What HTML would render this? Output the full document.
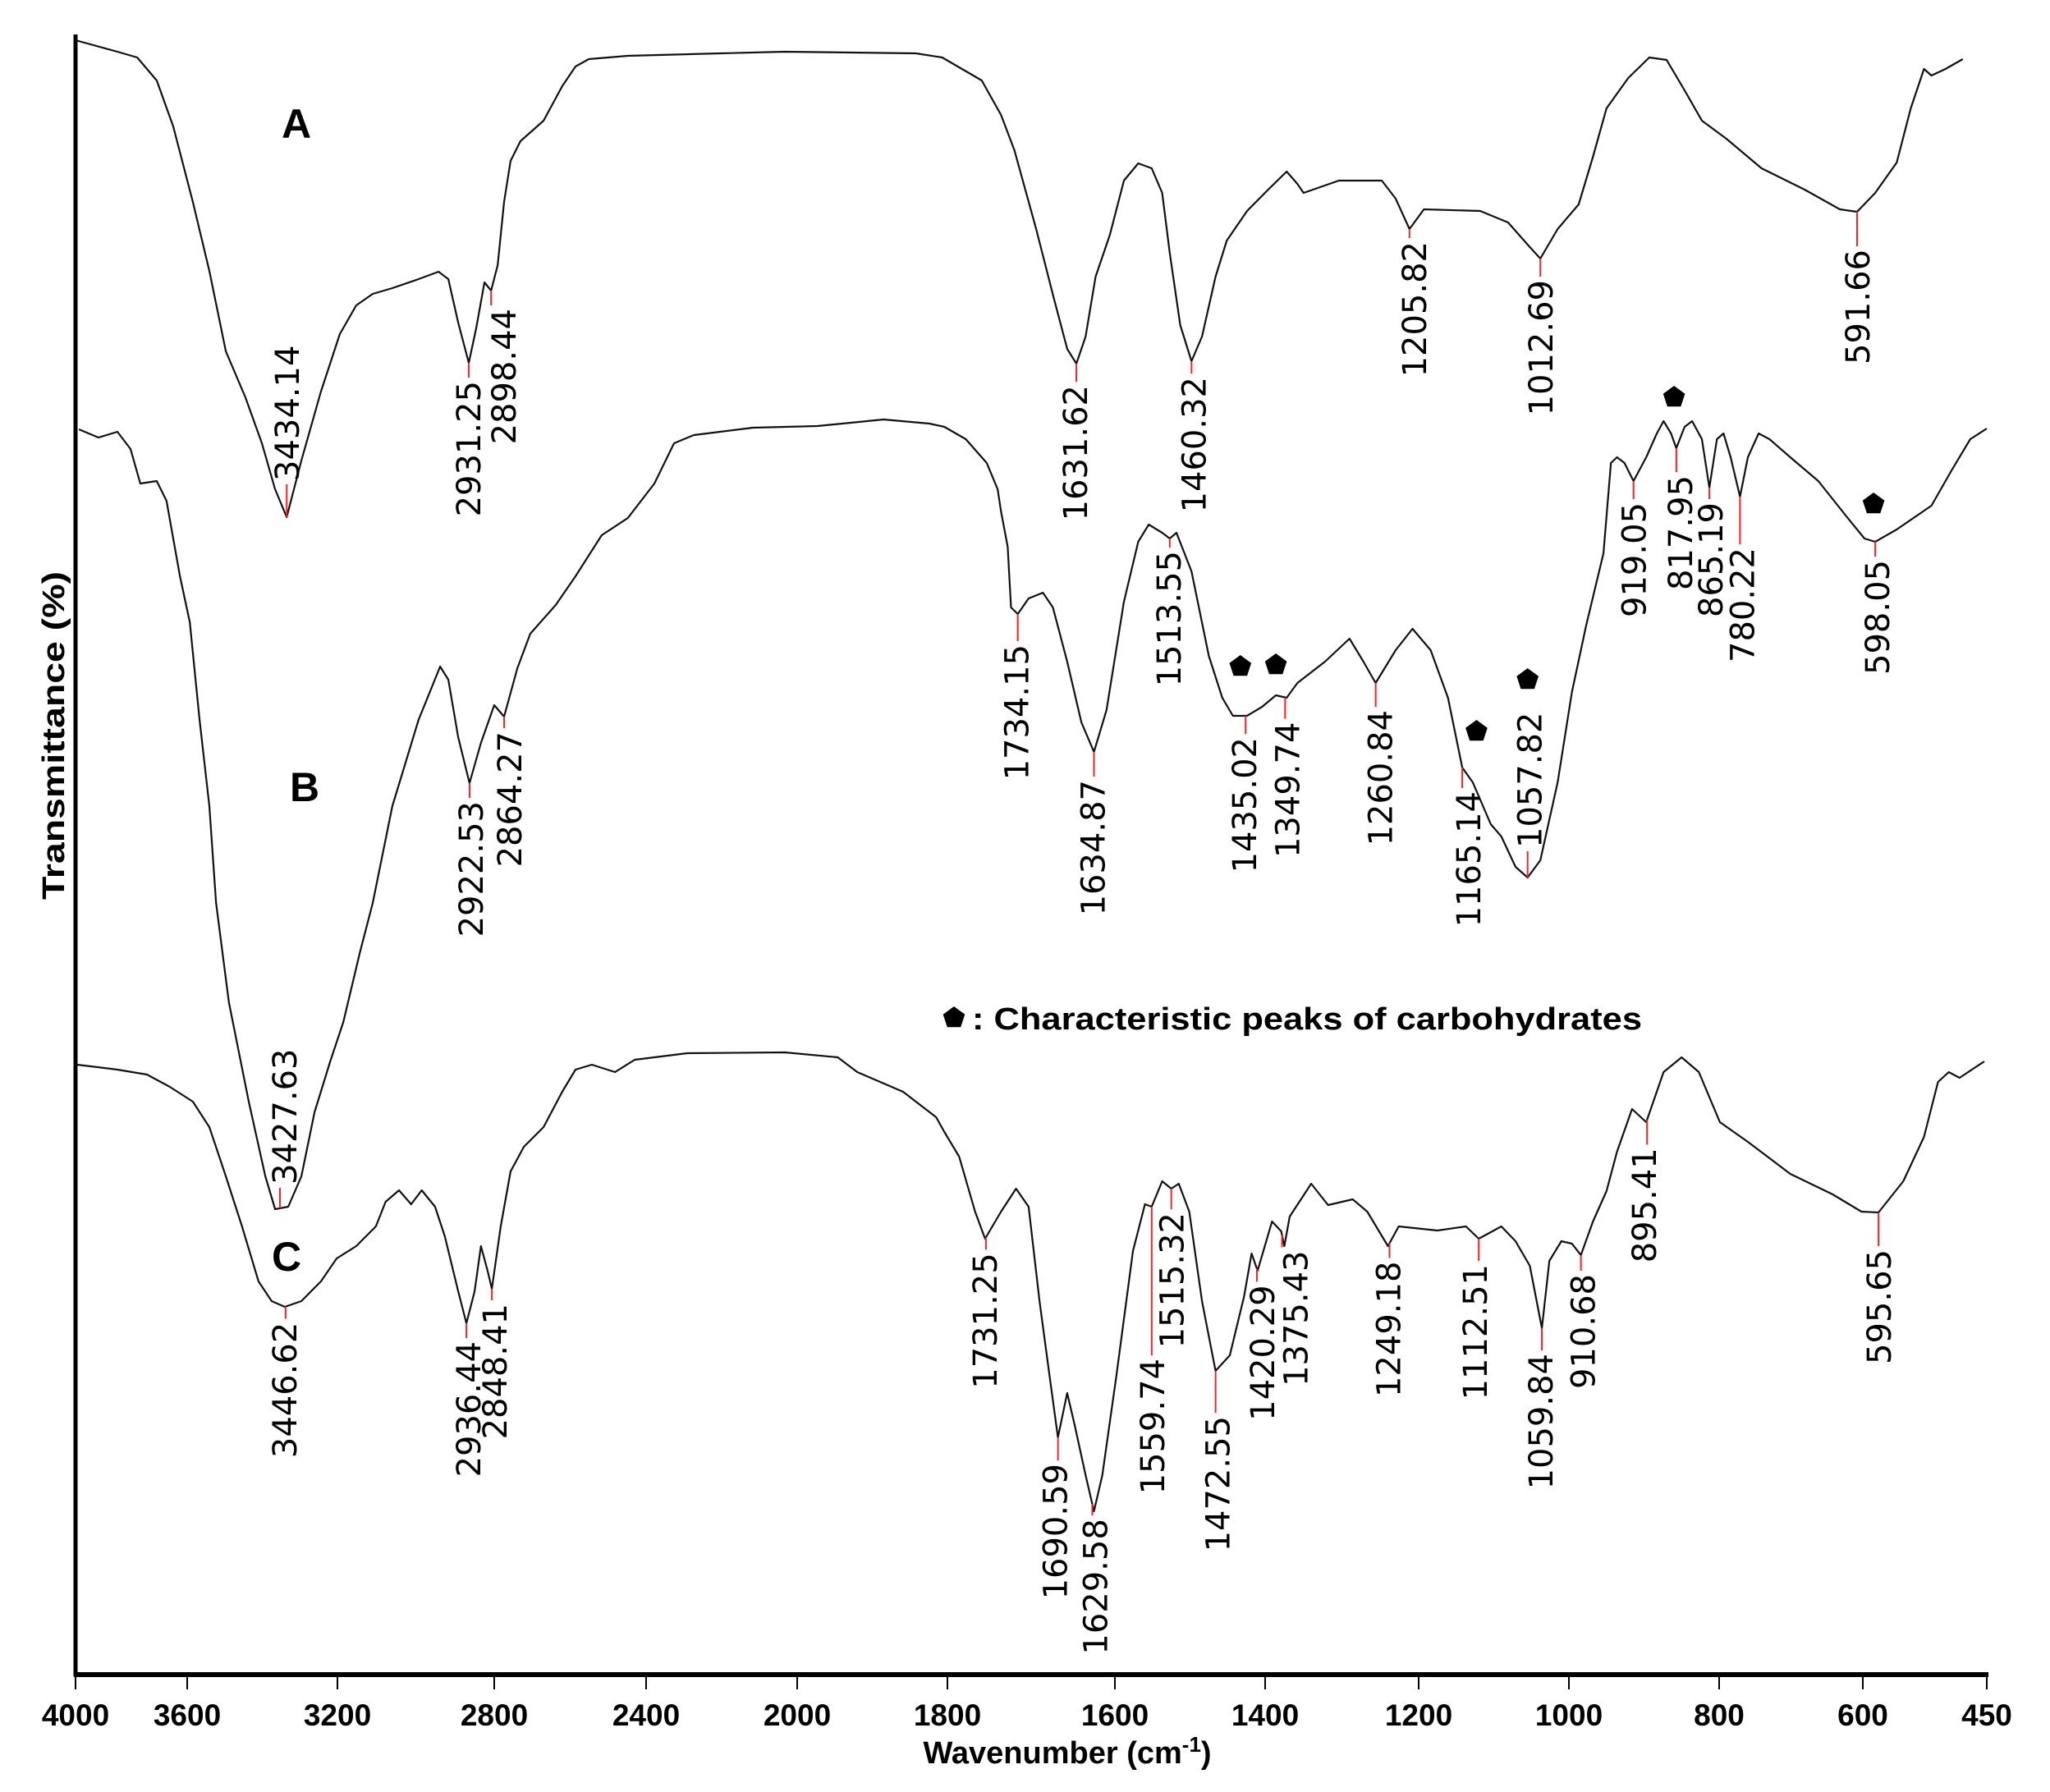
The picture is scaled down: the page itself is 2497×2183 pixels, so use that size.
<!DOCTYPE html>
<html><head><meta charset="utf-8">
<style>
html,body{margin:0;padding:0;background:#fff;}
svg{display:block;}
</style></head>
<body>
<svg id="chart" xmlns="http://www.w3.org/2000/svg" width="2497" height="2183" viewBox="0 0 2497 2183"></svg>
<script>
// ---- data ----
const tickLabels = [4000,3600,3200,2800,2400,2000,1800,1600,1400,1200,1000,800,600,450];

const waveA = [4000,3850,3779,3709,3650,3585,3541,3497,3445,3401,3366,3335,3296,3244,3194,3152,3110,3060,2993,2942,2917,2892,2865,2846,2825,2808,2791,2774,2757,2731,2670,2621,2586,2551,2448,2204,2033,1842,1807,1759,1736,1720,1694,1674,1657,1646,1635,1623,1606,1588,1569,1551,1537,1527,1513,1498,1484,1466,1451,1424,1396,1372,1358,1350,1304,1248,1230,1212,1193,1118,1081,1052,1038,1015,987,968,950,921,893,870,846,823,790,741,681,632,608,585,559,542,526,517,500,479];
const transA = [199.1,197.7,197.0,194.2,188.6,179.4,171.0,161.2,155.6,150.0,144.4,141.0,147.9,156.3,163.3,166.8,168.2,168.9,170.0,170.9,170.0,164.7,159.8,164.0,169.6,168.6,171.7,179.4,184.4,186.8,189.3,193.5,195.9,196.8,197.2,197.5,197.7,197.5,197.0,194.2,190.0,185.7,176.1,168.1,161.5,159.7,163.0,170.3,175.4,182.0,184.1,183.5,180.5,173.2,164.4,160.0,163.0,170.3,174.7,178.3,180.9,183.1,181.6,180.5,182.0,182.0,179.8,176.1,178.5,178.3,176.9,173.9,172.5,176.1,179.1,184.9,190.8,194.5,197.0,196.7,193.0,189.3,187.1,183.5,180.9,178.5,178.2,180.5,184.2,190.8,195.6,194.8,195.6,196.8];

const waveB = [3988,3918,3850,3803,3768,3709,3674,3626,3593,3567,3541,3523,3489,3436,3392,3366,3331,3296,3261,3220,3185,3143,3110,3060,2993,2938,2917,2892,2863,2834,2800,2774,2739,2705,2638,2586,2517,2448,2378,2326,2274,2117,1973,1885,1824,1804,1778,1753,1740,1736,1728,1724,1716,1703,1686,1674,1657,1640,1625,1610,1588,1569,1555,1537,1527,1518,1498,1475,1457,1443,1424,1404,1386,1372,1358,1322,1290,1272,1256,1230,1208,1184,1161,1142,1128,1104,1090,1071,1055,1038,1015,996,977,954,944,936,926,914,897,883,874,864,857,846,836,823,813,803,794,784,771,760,745,730,701,662,622,598,585,559,517,492,470,450];
const transB = [151.7,150.7,151.4,149.3,145.1,145.4,143.0,133.8,128.2,116.3,105.8,94.0,81.9,69.8,60.7,56.7,57.0,60.7,68.5,74.6,79.5,87.9,94.0,105.8,116.3,122.8,121.2,114.2,108.6,113.5,118.1,116.7,122.6,126.8,130.3,133.8,138.8,140.9,145.1,150.0,151.0,151.9,152.1,152.9,152.4,152.0,150.5,147.6,144.4,141.7,137.4,130.0,129.2,131.1,131.8,130.0,123.4,116.0,112.4,117.5,130.7,138.0,140.1,139.1,138.4,139.1,134.4,124.1,119.0,116.8,116.8,117.9,119.3,119.0,120.8,123.4,126.2,123.4,120.8,124.8,127.4,124.8,119.0,110.5,108.7,103.6,102.1,98.4,97.1,99.2,108.7,119.7,127.8,136.6,147.6,148.3,147.6,145.4,148.3,151.2,152.7,151.2,149.4,152.0,152.7,150.5,144.6,150.5,151.2,148.3,143.5,148.3,151.2,150.5,148.3,145.4,141.0,138.4,138.0,139.5,142.4,146.8,150.5,151.8];

const waveC = [3994,3850,3744,3662,3585,3541,3497,3454,3410,3375,3340,3296,3244,3202,3152,3102,3077,3043,3012,2985,2951,2926,2892,2871,2850,2834,2817,2806,2783,2757,2722,2670,2621,2586,2543,2482,2430,2291,2033,1946,1920,1859,1815,1804,1786,1767,1755,1736,1718,1703,1690,1678,1668,1657,1648,1635,1625,1615,1598,1576,1560,1551,1537,1525,1515,1501,1484,1466,1447,1428,1418,1410,1391,1379,1375,1368,1340,1318,1286,1267,1240,1226,1175,1137,1120,1090,1071,1052,1036,1026,1010,996,984,968,950,936,916,897,874,850,827,799,760,701,642,602,581,551,526,509,496,483,453];
const transC = [74.3,73.7,73.1,71.6,69.8,66.7,60.7,54.6,47.9,45.5,44.8,45.5,47.9,50.7,52.2,54.6,57.6,59.0,57.3,59.0,57.0,53.4,46.7,42.8,46.7,52.2,49.2,47.0,54.6,61.3,64.3,66.7,71.0,73.7,74.3,73.4,74.9,75.7,75.8,75.2,73.4,71.0,67.9,66.1,63.1,56.4,53.1,56.4,59.2,57.0,45.5,36.4,28.9,34.3,30.4,24.3,19.9,24.3,36.4,51.6,57.3,57.0,60.1,59.2,59.8,56.4,45.5,37.0,38.9,46.1,51.3,49.2,55.2,54.0,52.2,55.8,59.8,57.2,57.9,56.4,52.2,54.6,54.1,54.6,53.1,54.6,52.8,49.8,42.2,50.4,52.8,52.5,51.1,55.2,58.9,63.7,68.9,67.3,73.4,75.2,73.4,67.3,64.9,61.0,58.5,56.4,56.3,60.1,65.5,72.2,73.4,72.7,74.7];

// peak annotations
const peakWaveA = [3335,2865,2808,1646,1498,1212,1038,608];
const peakTextA = ['3434.14','2931.25','2898.44','1631.62','1460.32','1205.82','1012.69','591.66'];
const peakWaveB = [3353,2863,2774,1716,1625,1527,1426,1374,1256,1142,1055,914,857,813,771,585];
const peakTextB = ['3427.63','2922.53','2864.27','1734.15','1634.87','1513.55','1435.02','1349.74','1260.84','1165.14','1057.82','919.05','817.95','865.19','780.22','598.05'];
const peakWaveC = [3338,2871,2806,1754,1668,1627,1551,1525,1466,1411,1378,1238,1120,1036,984,896,581];
const peakTextC = ['3446.62','2936.44','2848.41','1731.25','1690.59','1629.58','1559.74','1515.32','1472.55','1420.29','1375.43','1249.18','1112.51','1059.84','910.68','895.41','595.65'];
const starWaves = [860,587,1433,1386,1123,1055];
const starTrans = [155.6,142.6,122.8,123.0,114.9,121.2];

// annotation layout (tick length px, horizontal text nudge px, label above?)
const layoutA = [[40,2,1],[18,1,0],[18,17,0],[22,0,0],[15,4,0],[11,7,0],[22,2,0],[42,2,0]];
const layoutB = [[25,7,1],[18,3,0],[14,8,0],[33,0,0],[30,0,0],[11,0,0],[22,0,0],[26,4,0],[29,7,0],[25,9,0],[32,4,1],[22,2,0],[29,6,0],[14,3,0],[58,4,0],[18,4,0]];
const layoutC = [[15,0,0],[18,4,0],[14,5,0],[15,0,0],[28,-2,0],[14,5,0],[181,2,0],[25,2,0],[51,4,0],[16,8,0],[15,18,0],[18,0,0],[27,-3,0],[27,0,0],[19,4,0],[30,-2,0],[41,2,0]];

// ---- scales ----
const axisBreakPx = [92,228,411,602,787,971,1154,1358,1541,1728,1911,2094,2269,2420];
function xScale(w){
  for(let i=0;i<tickLabels.length-1;i++){
    const a=tickLabels[i], b=tickLabels[i+1];
    if(w<=a && w>=b){ return axisBreakPx[i]+(a-w)/(a-b)*(axisBreakPx[i+1]-axisBreakPx[i]); }
  }
  return w>tickLabels[0]?axisBreakPx[0]:axisBreakPx[axisBreakPx.length-1];
}
function yScale(t){ return 2040 - t*10; }
function interp(ws,ts,w){
  for(let i=0;i<ws.length-1;i++){
    if(w<=ws[i] && w>=ws[i+1]){ const f=(ws[i]-w)/(ws[i]-ws[i+1]||1); return ts[i]+f*(ts[i+1]-ts[i]); }
  }
  return ts[ts.length-1];
}

const NS='http://www.w3.org/2000/svg';
const svg=document.getElementById('chart');
function mk(tag,attrs,parent){const e=document.createElementNS(NS,tag);for(const k in attrs)e.setAttribute(k,attrs[k]);(parent||svg).appendChild(e);return e;}

// axes
const ax=mk('g',{});


const yLine=mk('line',{x1:92,y1:42,x2:92,y2:2042,stroke:'#000','stroke-width':5},ax);


const xLine=mk('line',{x1:90,y1:2040,x2:2422,y2:2040,stroke:'#000','stroke-width':6},ax);


tickLabels.forEach((v)=>{
  const x=xScale(v);
  const t=mk('line',{x1:x,y1:2040,x2:x,y2:2058,stroke:'#000','stroke-width':2},ax);
  
  
  const lb=mk('text',{x:x,y:2102,'text-anchor':'middle','font-family':'Liberation Sans, sans-serif','font-weight':'bold','font-size':37},ax);
  
  
  lb.textContent=v;
});
const xt=mk('text',{x:1300,y:2148,'text-anchor':'middle','font-family':'Liberation Sans, sans-serif','font-weight':'bold','font-size':38},ax);


xt.innerHTML='Wavenumber (cm<tspan font-size="26" dy="-14">-1</tspan><tspan dy="14">)</tspan>';
const yt=mk('text',{transform:'translate(66,896) rotate(-90)','text-anchor':'middle','dominant-baseline':'central','font-family':'Liberation Sans, sans-serif','font-weight':'bold','font-size':38,textLength:400,lengthAdjust:'spacingAndGlyphs'},ax);


yt.textContent='Transmittance (%)';

// series
function drawSeries(name,ws,ts,pw,ptext,lay){
  const g=mk('g',{});
  
  
  let d='';
  ws.forEach((w,i)=>{d+=(i?'L':'M')+xScale(w).toFixed(1)+' '+yScale(ts[i]).toFixed(1);});
  const p=mk('path',{d:d,fill:'none',stroke:'#111','stroke-width':2.2,'stroke-linejoin':'round'},g);
  
  
  pw.forEach((w,i)=>{
    const x=xScale(w), y=yScale(interp(ws,ts,w));
    const L=lay[i][0], dx=lay[i][1], up=lay[i][2];
    const y2= up? y-L : y+L;
    const tk=mk('line',{x1:x,y1:y,x2:x,y2:y2,stroke:'#ff2020','stroke-width':2},g);
    
    
    const ty= up? y2-4 : y2+4;
    const tx=mk('text',{transform:'translate('+(x+dx).toFixed(1)+','+ty.toFixed(1)+') rotate(-90)','text-anchor':up?'start':'end','dominant-baseline':'central','font-family':'DejaVu Sans, sans-serif','font-size':40},g);
    
    
    tx.textContent=ptext[i];
  });
}
drawSeries('spectrum-a',waveA,transA,peakWaveA,peakTextA,layoutA);
drawSeries('spectrum-b',waveB,transB,peakWaveB,peakTextB,layoutB);
drawSeries('spectrum-c',waveC,transC,peakWaveC,peakTextC,layoutC);

// series letters
function letter(txt,x,y){
  const t=mk('text',{x:x,y:y,'font-family':'Liberation Sans, sans-serif','font-weight':'bold','font-size':50});
  
  
  t.textContent=txt;
}
letter('A',343,168); letter('B',353,976); letter('C',331,1548);

// stars
function pent(cx,cy,r){
  let pts=[];
  for(let k=0;k<5;k++){const a=-Math.PI/2+k*2*Math.PI/5;pts.push((cx+r*Math.cos(a)).toFixed(1)+','+(cy+r*Math.sin(a)).toFixed(1));}
  return pts.join(' ');
}
starWaves.forEach((w,i)=>{
  const s=mk('polygon',{points:pent(xScale(w),yScale(starTrans[i]),14),fill:'#000'});
  
  
});
const lg=mk('g',{});


const ls=mk('polygon',{points:pent(1162,1240,14),fill:'#000'},lg);


const lt=mk('text',{x:1184,y:1254,'font-family':'Liberation Sans, sans-serif','font-weight':'bold','font-size':38,textLength:816,lengthAdjust:'spacingAndGlyphs'},lg);


lt.textContent=': Characteristic peaks of carbohydrates';
</script>
</body></html>
